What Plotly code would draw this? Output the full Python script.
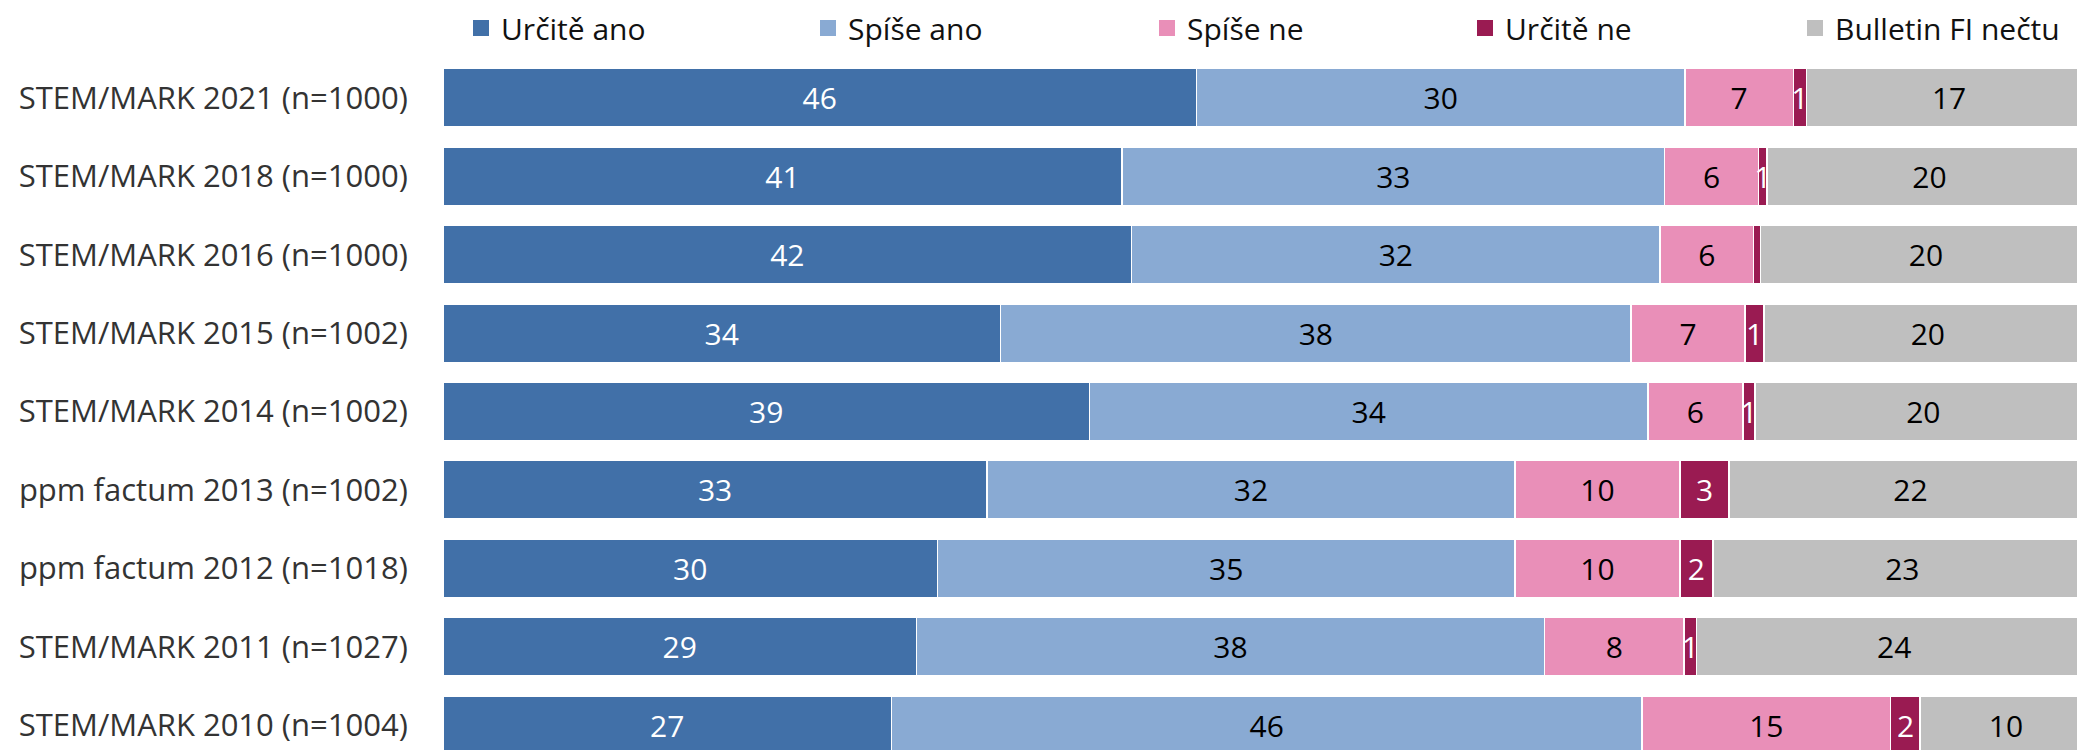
import plotly.graph_objects as go

categories = [
    "STEM/MARK 2021 (n=1000)",
    "STEM/MARK 2018 (n=1000)",
    "STEM/MARK 2016 (n=1000)",
    "STEM/MARK 2015 (n=1002)",
    "STEM/MARK 2014 (n=1002)",
    "ppm factum 2013 (n=1002)",
    "ppm factum 2012 (n=1018)",
    "STEM/MARK 2011 (n=1027)",
    "STEM/MARK 2010 (n=1004)",
]

urcite_ano = [45.70, 41.18, 41.77, 33.81, 39.21, 33.00, 29.99, 28.71, 27.20]
spise_ano = [29.62, 32.92, 32.04, 38.26, 33.87, 32.02, 35.03, 38.10, 45.52]
spise_ne = [6.58, 5.70, 5.68, 6.90, 5.77, 10.01, 10.01, 8.46, 15.09]
urcite_ne = [0.79, 0.52, 0.42, 1.16, 0.72, 2.98, 1.99, 0.77, 1.79]
necte = [17.32, 19.68, 20.08, 19.86, 20.43, 22.00, 22.99, 23.96, 10.40]

series = [
    ("Určitě ano", urcite_ano, "#4170A8", "white"),
    ("Spíše ano", spise_ano, "#89AAD3", "black"),
    ("Spíše ne", spise_ne, "#E98FB8", "black"),
    ("Určitě ne", urcite_ne, "#9A1B52", "white"),
    ("Bulletin FI nečtu", necte, "#BFBFBF", "black"),
]

FONT = "Open Sans"
FS = 30

L, W, H, T = 443, 2077, 750, 59
plot_w = W - L
px_per_unit = 16.487
xmax = plot_w / px_per_unit

# legend left positions (pixels)
legend_px = [461, 808, 1147, 1465, 1795]
legend_names = ["legend", "legend2", "legend3", "legend4", "legend5"]

fig = go.Figure()
for i, (name, vals, color, tcolor) in enumerate(series):
    texts = [str(int(round(v))) if round(v) > 0 else "" for v in vals]
    fig.add_trace(go.Bar(
        name=name, y=categories, x=vals, orientation="h",
        marker=dict(color=color, line=dict(color="white", width=1.5)),
        text=texts, textposition="inside", insidetextanchor="middle",
        textangle=0, constraintext="none",
        textfont=dict(family=FONT, size=FS, color=tcolor),
        showlegend=False, hoverinfo="skip",
    ))
    # legend entry with a larger square swatch
    fig.add_trace(go.Scatter(
        name=name, x=[None], y=[None], mode="markers",
        marker=dict(symbol="square", size=17, color=color),
        legend=legend_names[i], showlegend=True, hoverinfo="skip",
    ))

legend_y = 1 + (T - 28) / (H - T)
layout_legends = {}
for i, ln in enumerate(legend_names):
    layout_legends[ln] = dict(
        x=(legend_px[i] - L) / plot_w, y=legend_y,
        xanchor="left", yanchor="middle",
        orientation="h", bgcolor="rgba(0,0,0,0)", borderwidth=0,
        font=dict(family=FONT, size=FS, color="#111111"),
        itemwidth=30, itemsizing="trace",
    )

fig.update_layout(
    width=W, height=H,
    margin=dict(l=L, r=0, t=T, b=0, pad=0),
    barmode="stack", bargap=0.254,
    plot_bgcolor="white", paper_bgcolor="white",
    font=dict(family=FONT, size=FS, color="#333333"),
    showlegend=True,
    **layout_legends,
)
fig.update_xaxes(range=[0, xmax], visible=False, showgrid=False, zeroline=False)
fig.update_yaxes(
    type="category", categoryorder="array", categoryarray=categories,
    range=[8.318, -0.496], showgrid=False, zeroline=False, showline=False,
    ticks="outside", ticklen=28, tickcolor="rgba(0,0,0,0)",
    tickfont=dict(family=FONT, size=31, color="#333333"),
)

fig.write_html("out.html")
